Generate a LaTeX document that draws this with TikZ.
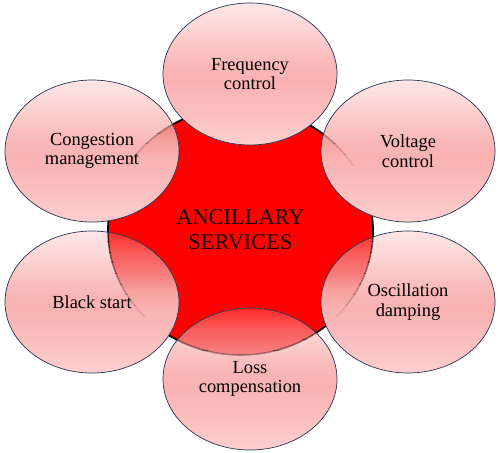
\documentclass[tikz,border=0pt]{standalone}
\usepackage{fontspec}
\setmainfont{Liberation Serif}
\definecolor{ringred}{HTML}{FF0000}
\definecolor{edgeblue}{HTML}{26324F}
% bubble colours over white, by fraction t from the top
\definecolor{bwA}{HTML}{FDE6E6}% t=0
\definecolor{bwB}{HTML}{FCD8D8}% t=.15
\definecolor{bwC}{HTML}{FAC6C6}% t=.30
\definecolor{bwD}{HTML}{F9B6B6}% t=.45
\definecolor{bwE}{HTML}{F9B2B2}% t=.55
\definecolor{bwF}{HTML}{FABDBD}% t=.75
\definecolor{bwG}{HTML}{FDCFCF}% t=1
% bubble colours over the red core
\definecolor{brA}{HTML}{FF2A2A}
\definecolor{brB}{HTML}{FA5A5A}
\definecolor{brC}{HTML}{F77C7C}
\definecolor{brD}{HTML}{F8A0A0}
\pgfdeclareverticalshading{bubwhite}{100bp}{color(0bp)=(bwG); color(25bp)=(bwG); color(37.5bp)=(bwF); color(47.5bp)=(bwE); color(52.5bp)=(bwD); color(60bp)=(bwC); color(67.5bp)=(bwB); color(75bp)=(bwA); color(100bp)=(bwA)}
\pgfdeclareverticalshading{bubred}{100bp}{color(0bp)=(bwG); color(25bp)=(bwG); color(37.5bp)=(bwF); color(47.5bp)=(bwE); color(54bp)=(brD); color(60bp)=(brC); color(67.5bp)=(brB); color(75bp)=(brA); color(100bp)=(brA)}
\tikzset{
  bubbleedge/.style={draw=edgeblue, line width=0.7pt},
  label/.style={align=center, text=black, font=\fontsize{18.5}{19.5}\selectfont},
  core/.style={align=center, text=black!92!red, font=\fontsize{22.5}{25}\selectfont}
}
\begin{document}
\begin{tikzpicture}[x=1bp,y=1bp]
\useasboundingbox (0,0) rectangle (498,-453);
% central shape
\fill[ringred] (240.5,-231) ellipse [x radius=132.5, y radius=124];
\draw[black, line width=1.8pt] (240.5,-231) ellipse [x radius=132.5, y radius=124];
% six bubbles
\foreach \cx/\cy in {250/74, 92/151, 408/151, 92/302, 408/302, 250/379}{
  \begin{scope}
    \clip (\cx,-\cy) ellipse [x radius=87, y radius=71];
    \shade[shading=bubwhite] (\cx,-\cy) ellipse [x radius=87, y radius=71];
    \begin{scope}
      \clip (240.5,-231) ellipse [x radius=132.5, y radius=124];
      \shade[shading=bubred] (\cx,-\cy) ellipse [x radius=87, y radius=71];
    \end{scope}
    \foreach \i in {0,...,7}{
      \begin{scope}
        \clip (\cx-90,-\cy+71-\i*10.65) rectangle (\cx+90,-\cy+71-\i*10.65-10.65);
        \draw[black, line width=1.6pt, opacity={0.65*(1-\i/8)}] (240.5,-231) ellipse [x radius=132.5, y radius=124];
      \end{scope}
    }
  \end{scope}
  \path[bubbleedge] (\cx,-\cy) ellipse [x radius=87, y radius=71];
}
\node[core]  (center) at (240.5,-230) {ANCILLARY\\SERVICES};
\node[label] (freq)   at (250,-74)  {Frequency\\control};
\node[label] (cong)   at (92,-151)  {Congestion\\management};
\node[label] (volt)   at (408,-151) {Voltage\\control};
\node[label] (black)  at (92,-302)  {Black start};
\node[label] (osc)    at (408,-302) {Oscillation\\damping};
\node[label] (loss)   at (250,-379) {Loss\\compensation};
\end{tikzpicture}
\end{document}
